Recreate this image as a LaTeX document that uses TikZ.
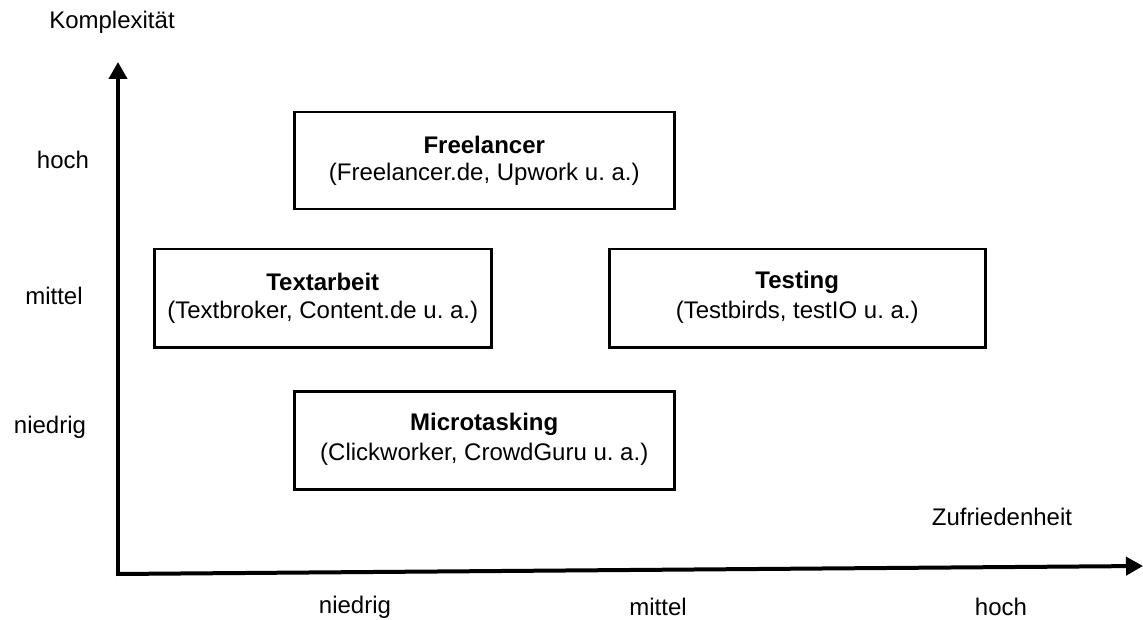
\documentclass[tikz,border=0pt]{standalone}
\usepackage{fontspec}
\setmainfont{Liberation Sans}
\usetikzlibrary{arrows.meta}
\frenchspacing
\begin{document}
\begin{tikzpicture}[x=1pt,y=-1pt,
  lbl/.style={font=\fontsize{24}{28}\selectfont, inner sep=0pt},
  cat/.style={draw=black, line width=2.5pt, anchor=north west, inner sep=0pt},
  ttl/.style={font=\fontsize{24}{28}\selectfont\bfseries, inner sep=0pt},
  sub/.style={font=\fontsize{24}{28}\selectfont, inner sep=0pt},
  axis/.style={line width=4pt, -{Triangle[length=17pt,width=18pt]}}]
\useasboundingbox (0,0) rectangle (1143,620);
% axes
\coordinate (O) at (118,574);
\coordinate (Ytip) at (118,62);
\coordinate (Xtip) at (1143,566);
\draw[axis] ([yshift=-2pt]O) -- (Ytip);
\draw[axis] ([xshift=-2pt]O) -- (Xtip);
% axis labels
\node[lbl] (ytitle) at (112,22) {Komplexität};
\node[lbl] (yh) at (63,160) {hoch};
\node[lbl] (ym) at (54,296) {mittel};
\node[lbl] (yn) at (50,427) {niedrig};
\node[lbl] (xtitle) at (1002,517) {Zufriedenheit};
\node[lbl] (xn) at (355,607) {niedrig};
\node[lbl] (xm) at (658,607) {mittel};
\node[lbl] (xh) at (1001,607) {hoch};
% boxes
\node[cat, minimum width=380pt, minimum height=97pt] (free) at (293,111) {};
\node[cat, minimum width=337pt, minimum height=98pt] (text) at (153,248) {};
\node[cat, minimum width=376pt, minimum height=98pt] (test) at (608,248) {};
\node[cat, minimum width=380pt, minimum height=98pt] (micro) at (293,390) {};
\foreach \b/\t/\s in {free/Freelancer/{(Freelancer.de, Upwork u. a.)},
                      text/Textarbeit/{(Textbroker, Content.de u. a.)},
                      test/Testing/{(Testbirds, testIO u. a.)},
                      micro/Microtasking/{(Clickworker, CrowdGuru u. a.)}}{
  \node[ttl] (\b-t) at ([yshift=16pt]\b.center) {\t};
  \node[sub] (\b-s) at ([yshift=-14pt]\b.center) {\s};
}
\end{tikzpicture}
\end{document}
